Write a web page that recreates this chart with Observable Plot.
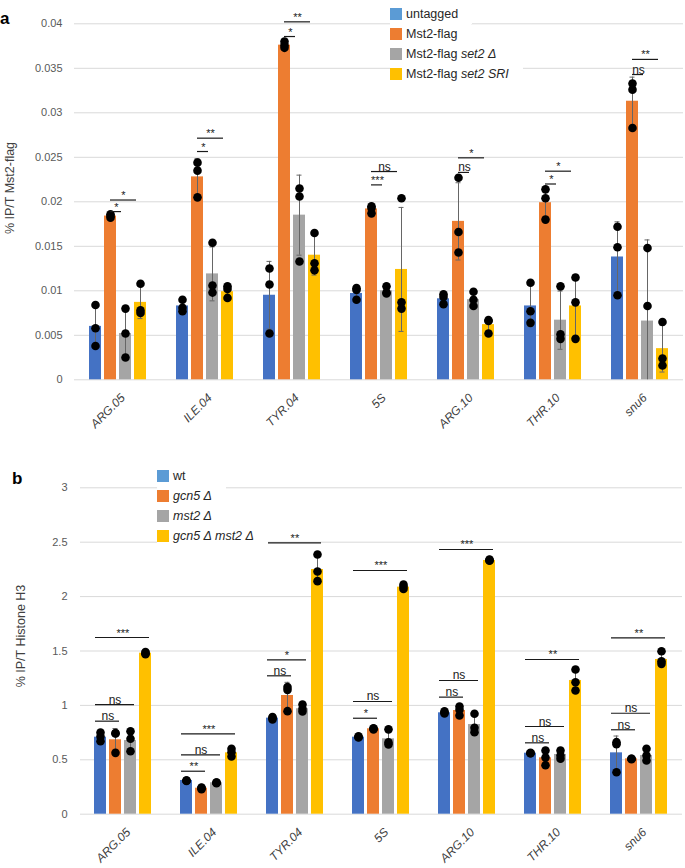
<!DOCTYPE html>
<html><head><meta charset="utf-8">
<script src="https://cdn.jsdelivr.net/npm/d3@7"></script>
<script src="https://cdn.jsdelivr.net/npm/@observablehq/plot@0.6"></script>
<style>
body{margin:0;background:#fff;font-family:"Liberation Sans",Arial,sans-serif;}
#wrap{position:relative;width:685px;height:868px;overflow:hidden;}
.panel{position:absolute;left:0;}
.plab{position:absolute;font-weight:bold;font-size:17px;color:#000;line-height:1;}
.ylab{position:absolute;white-space:nowrap;font-size:12.5px;color:#404040;transform:translate(-50%,-50%) rotate(-90deg);line-height:1;}
.legend{position:absolute;font-size:12.5px;color:#262626;}
.legend .item{display:flex;align-items:center;height:20px;background:#fff;width:max-content;padding-right:14px;}
.legend .sw{width:12px;height:12px;margin-right:4px;flex:none;}
.legend i{font-style:italic;}
</style>
</head><body>
<div id="wrap"></div>
<script>
// ---------- shared ----------
const categories = ["ARG.05","ILE.04","TYR.04","5S","ARG.10","THR.10","snu6"];
const barColors = ["#4472C4","#ED7D31","#A5A5A5","#FFC000"];
const swatchColors = ["#5B9BD5","#ED7D31","#A5A5A5","#FFC000"];

// ---------- panel a ----------
const seriesA = ["untagged","Mst2-flag","Mst2-flag set2 Δ","Mst2-flag set2 SRI"];
const ticksA = [0,0.005,0.01,0.015,0.02,0.025,0.03,0.035,0.04];
const meanA_untagged = [0.0060,0.0083,0.0095,0.0097,0.0091,0.0083,0.0138];
const meanA_mst2     = [0.0184,0.0228,0.0376,0.0192,0.0178,0.0199,0.0313];
const meanA_set2del  = [0.0052,0.0119,0.0185,0.0100,0.0090,0.0067,0.0066];
const meanA_sri      = [0.0087,0.0099,0.0140,0.0124,0.0062,0.0083,0.0035];
const repA_untagged = [[0.0084,0.0058,0.0038],[0.0090,0.0081,0.0077],[0.0125,0.0107,0.0052],[0.0103,0.0101,0.0090],[0.0096,0.0093,0.0085],[0.0109,0.0077,0.0064],[0.0172,0.0149,0.0095]];
const repA_mst2     = [[0.0186,0.0184,0.0182],[0.0244,0.0235,0.0205],[0.0380,0.0376,0.0373],[0.0195,0.0193,0.0187],[0.0227,0.0166,0.0143],[0.0214,0.0204,0.0180],[0.0333,0.0326,0.0283]];
const repA_set2del  = [[0.0080,0.0052,0.0025],[0.0154,0.0106,0.0098],[0.0215,0.0206,0.0133],[0.0105,0.0098,0.0097],[0.0099,0.0090,0.0083],[0.0105,0.0051,0.0046],[0.0148,0.0083,-0.0032]];
const repA_sri      = [[0.0108,0.0078,0.0075],[0.0105,0.0102,0.0092],[0.0165,0.0131,0.0123],[0.0204,0.0087,0.0080],[0.0067,0.0066,0.0052],[0.0115,0.0087,0.0046],[0.0065,0.0024,0.0016]];
// significance: Mst2-flag vs set2 Δ (short) and Mst2-flag vs set2 SRI (long)
const sigA_short_label = ["*","*","*","***","ns","*","ns"];
const sigA_short_y     = [0.0189,0.02565,0.03857,0.0219,0.0233,0.0220,0.0343];
const sigA_long_label  = ["*","**","**","ns","*","*","**"];
const sigA_long_y      = [0.0202,0.02715,0.04022,0.0234,0.02494,0.02344,0.0360];

// ---------- panel b ----------
const seriesB = ["wt","gcn5 Δ","mst2 Δ","gcn5 Δ mst2 Δ"];
const ticksB = [0,0.5,1,1.5,2,2.5,3];
const meanB_wt     = [0.708,0.310,0.883,0.708,0.932,0.561,0.564];
const meanB_gcn5   = [0.684,0.239,1.091,0.785,0.953,0.518,0.509];
const meanB_mst2   = [0.677,0.289,0.969,0.693,0.824,0.549,0.539];
const meanB_double = [1.480,0.564,2.249,2.087,2.332,1.229,1.422];
const repB_wt     = [[0.751,0.714,0.671],[0.310,0.310,0.305],[0.892,0.885,0.870],[0.715,0.710,0.705],[0.945,0.935,0.925],[0.565,0.560,0.560],[0.662,0.644,0.386]];
const repB_gcn5   = [[0.745,0.742,0.564],[0.245,0.240,0.230],[1.168,1.143,0.947],[0.790,0.785,0.780],[0.990,0.960,0.907],[0.585,0.520,0.450],[0.510,0.510,0.505]];
const repB_mst2   = [[0.763,0.693,0.579],[0.290,0.290,0.285],[1.008,0.969,0.944],[0.780,0.660,0.640],[0.923,0.794,0.754],[0.585,0.540,0.509],[0.601,0.540,0.494]];
const repB_double = [[1.490,1.480,1.470],[0.601,0.570,0.530],[2.387,2.231,2.142],[2.110,2.090,2.070],[2.340,2.335,2.330],[1.330,1.213,1.137],[1.498,1.406,1.382]];
// significance: wt vs gcn5 Δ, wt vs mst2 Δ, wt vs double
const sigB1_label = ["ns","**","ns","*","ns","ns","ns"];
const sigB1_y     = [0.855,0.395,1.272,0.882,1.076,0.656,0.776];
const sigB2_label = ["ns","ns","*","ns","ns","ns","ns"];
const sigB2_y     = [1.008,0.546,1.419,1.036,1.229,0.806,0.928];
const sigB3_label = ["***","***","**","***","***","**","**"];
const sigB3_y     = [1.624,0.739,2.494,2.240,2.433,1.422,1.621];

// ---------- build tables ----------
function tables(series, means, reps) {
  const bars = [], errs = [], pts = [];
  categories.forEach((c, i) => {
    series.forEach((s, j) => {
      const m = means[j][i], r = reps[j][i], sd = d3.deviation(r);
      bars.push({cat: c, series: s, value: m});
      errs.push({cat: c, series: s, lo: Math.max(0, m - sd), hi: m + sd, lowCap: m - sd >= 0});
      r.forEach(v => { if (v >= 0) pts.push({cat: c, series: s, value: v}); });
    });
  });
  return {bars, errs, pts};
}
function sigRows(from, to, labels, ys) {
  return categories.map((c, i) => ({cat: c, from, to, label: labels[i], y: ys[i]}));
}

const font = "Liberation Sans, Arial, sans-serif";
const tA = tables(seriesA, [meanA_untagged, meanA_mst2, meanA_set2del, meanA_sri],
                           [repA_untagged, repA_mst2, repA_set2del, repA_sri]);
const sigAs = sigRows(seriesA[1], seriesA[2], sigA_short_label, sigA_short_y);
const sigAl = sigRows(seriesA[1], seriesA[3], sigA_long_label, sigA_long_y);

const tB = tables(seriesB, [meanB_wt, meanB_gcn5, meanB_mst2, meanB_double],
                           [repB_wt, repB_gcn5, repB_mst2, repB_double]);
const sigB1 = sigRows(seriesB[0], seriesB[1], sigB1_label, sigB1_y);
const sigB2 = sigRows(seriesB[0], seriesB[2], sigB2_label, sigB2_y);
const sigB3 = sigRows(seriesB[0], seriesB[3], sigB3_label, sigB3_y);

const sigFont = d => d.label === "ns" ? 12 : 11;

function panel(opts) {
  const {series, t, ticks, yDomain, width, height, mL, mR, mT, mB, sigs, insL, insR} = opts;
  const sigMarks = [];
  sigs.forEach(([rows, at, dx]) => {
    sigMarks.push(Plot.ruleY(rows, {fx: "cat", x1: "from", x2: "to", y: "y", stroke: "#1a1a1a", strokeWidth: 1.2, insetLeft: insL, insetRight: insR}));
    sigMarks.push(Plot.text(rows, {fx: "cat", x: () => at, y: "y", text: "label", dx, dy: -1, lineAnchor: "bottom", fontSize: sigFont, fill: "#1a1a1a"}));
  });
  return Plot.plot({
    width, height, marginLeft: mL, marginRight: mR, marginTop: mT, marginBottom: mB,
    style: {fontFamily: font, background: "transparent", overflow: "visible"},
    fx: {domain: categories, padding: 0, label: null},
    x: {domain: series, paddingInner: 0.19, paddingOuter: 0.873, axis: null},
    y: {domain: yDomain, axis: null},
    color: {domain: series, range: barColors},
    marks: [
      Plot.gridY({ticks, stroke: "#d9d9d9", strokeOpacity: 1, strokeWidth: 1}),
      Plot.barY(t.bars, {fx: "cat", x: "series", y: "value", fill: "series"}),
      Plot.ruleX(t.errs, {fx: "cat", x: "series", y1: "lo", y2: "hi", stroke: "#666", strokeWidth: 1}),
      Plot.tickY(t.errs, {fx: "cat", x: "series", y: "hi", stroke: "#666", strokeWidth: 1, inset: 3.5}),
      Plot.tickY(t.errs.filter(d => d.lowCap), {fx: "cat", x: "series", y: "lo", stroke: "#666", strokeWidth: 1, inset: 3.5}),
      Plot.dot(t.pts, {fx: "cat", x: "series", y: "value", r: 4.3, fill: "black"}),
      ...sigMarks,
      Plot.axisY({ticks, tickFormat: d => String(d), tickSize: 0, tickPadding: opts.tickPad, fontSize: 11, fill: "#595959", label: null}),
      Plot.axisFx({anchor: "bottom", tickSize: 0, tickPadding: 16, tickRotate: -45, fontSize: 12, fontStyle: "italic", fill: "#404040", label: null, dx: 5})
    ]
  });
}

const wrap = document.getElementById("wrap");

const svgA = panel({series: seriesA, t: tA, ticks: ticksA, yDomain: [0, 0.04], width: 685, height: 437,
  mL: 72, mR: 0, mT: 23.3, mB: 57.7, insL: 6, insR: 10, tickPad: 12,
  sigs: [[sigAs, seriesA[1], 6], [sigAl, seriesA[2], -2]]});
svgA.classList.add("panel"); svgA.style.top = "0px";
wrap.appendChild(svgA);

const svgB = panel({series: seriesB, t: tB, ticks: ticksB, yDomain: [0, 3], width: 685, height: 428,
  mL: 78, mR: 2, mT: 47.3, mB: 54.3, insL: 1, insR: 2, tickPad: 13,
  sigs: [[sigB1, seriesB[0], 7.4], [sigB2, seriesB[1], -0.5], [sigB3, seriesB[1], 7.4]]});
svgB.classList.add("panel"); svgB.style.top = "440px";
wrap.appendChild(svgB);

// ---------- overlays: panel letters, y labels, legends ----------
function addDiv(cls, html, css) {
  const d = document.createElement("div");
  d.className = cls; d.innerHTML = html; Object.assign(d.style, css);
  wrap.appendChild(d); return d;
}
addDiv("plab", "a", {left: "0px", top: "10px"});
addDiv("plab", "b", {left: "12px", top: "470px"});
addDiv("ylab", "% IP/T Mst2-flag", {left: "10px", top: "188px"});
addDiv("ylab", "% IP/T Histone H3", {left: "21px", top: "636px"});

const legendA = ["untagged", "Mst2-flag", "Mst2-flag <i>set2 Δ</i>", "Mst2-flag <i>set2 SRI</i>"];
const legendB = ["wt", "<i>gcn5 Δ</i>", "<i>mst2 Δ</i>", "<i>gcn5 Δ mst2 Δ</i>"];
function legend(items, left, top) {
  const html = items.map((s, i) =>
    `<div class="item"><span class="sw" style="background:${swatchColors[i]}"></span><span>${s}</span></div>`).join("");
  addDiv("legend", html, {left: left + "px", top: top + "px"});
}
legend(legendA, 390, 4);
legend(legendB, 157, 466);
</script>
</body></html>
